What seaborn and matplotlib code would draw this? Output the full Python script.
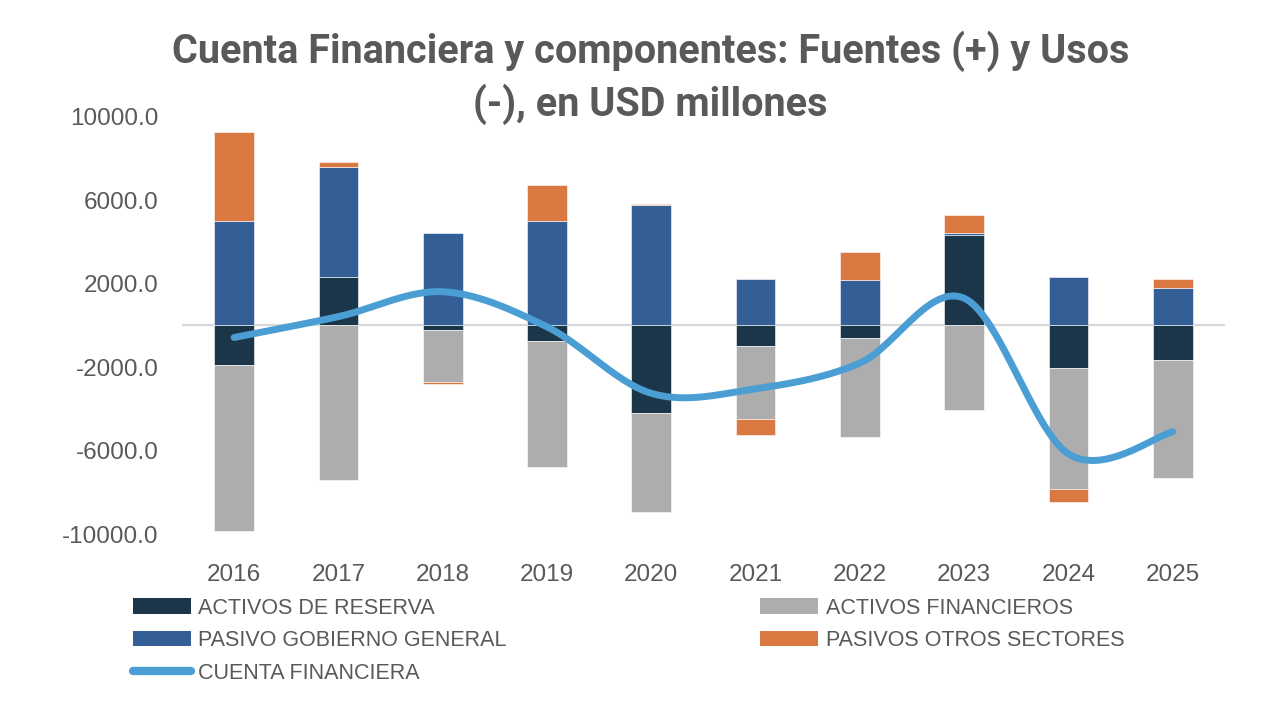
import numpy as np
import pandas as pd
import matplotlib
matplotlib.use("Agg")
import matplotlib.pyplot as plt
from matplotlib.lines import Line2D
from matplotlib.patches import Patch
import seaborn as sns

sns.set_theme(style="white")
plt.rcParams['font.family'] = ['Liberation Sans', 'DejaVu Sans']

years = ["2016", "2017", "2018", "2019", "2020", "2021", "2022", "2023", "2024", "2025"]
activos_reserva = [-1890, 2300, -210, -770, -4210, -970, -600, 4310, -2040, -1670]
activos_financieros = [-7960, -7400, -2510, -6030, -4710, -3520, -4730, -4040, -5800, -5650]
pasivo_gobierno = [5000, 5280, 4430, 4990, 5740, 2230, 2150, 130, 2310, 1780]
pasivos_otros = [4270, 240, -100, 1740, 70, -770, 1380, 850, -620, 450]
cuenta_financiera = [-580, 420, 1610, -70, -3250, -3030, -1800, 1300, -6150, -5090]

series_names = ["ACTIVOS DE RESERVA", "ACTIVOS FINANCIEROS",
                "PASIVO GOBIERNO GENERAL", "PASIVOS OTROS SECTORES"]
series_colors = ["#1B3649", "#ADADAD", "#335E96", "#D97841"]
line_name = "CUENTA FINANCIERA"
line_color = "#4A9ED3"

df = pd.DataFrame({
    "year": years,
    series_names[0]: activos_reserva,
    series_names[1]: activos_financieros,
    series_names[2]: pasivo_gobierno,
    series_names[3]: pasivos_otros,
})

fig = plt.figure(figsize=(12.88, 7.04), dpi=100)
ax = fig.add_axes([0.1413, 0.241, 0.8097, 0.5936])

x = np.arange(len(years))
pos_bottom = np.zeros(len(years))
neg_bottom = np.zeros(len(years))
for name, col in zip(series_names, series_colors):
    v = df[name].to_numpy(dtype=float)
    b = np.where(v >= 0, pos_bottom, neg_bottom)
    ax.bar(x, v, bottom=b, width=0.38, color=col, edgecolor="white",
           linewidth=0.4, zorder=2)
    pos_bottom += np.where(v >= 0, v, 0)
    neg_bottom += np.where(v < 0, v, 0)

ax.axhline(0, color="#D9D9D9", linewidth=1.6, zorder=1)


# smoothed line like the spreadsheet one (catmull-rom between points)
def smooth(xs, ys, n=30):
    pts = np.column_stack([xs, ys]).astype(float)
    pts = np.vstack([pts[0], pts, pts[-1]])
    out = []
    for i in range(1, len(pts) - 2):
        p0, p1, p2, p3 = pts[i - 1], pts[i], pts[i + 1], pts[i + 2]
        t = np.linspace(0, 1, n)[:, None]
        seg = 0.5 * ((2 * p1) + (-p0 + p2) * t + (2 * p0 - 5 * p1 + 4 * p2 - p3) * t ** 2
                     + (-p0 + 3 * p1 - 3 * p2 + p3) * t ** 3)
        out.append(seg)
    out = np.vstack(out)
    return out[:, 0], out[:, 1]


sx, sy = smooth(x, cuenta_financiera)
sns.lineplot(x=sx, y=sy, ax=ax, color=line_color, linewidth=5, sort=False,
             solid_capstyle="round", zorder=3)

ax.set_xlim(-0.5, len(years) - 0.5)
ax.set_ylim(-10000, 10000)
ax.set_yticks([-10000, -6000, -2000, 2000, 6000, 10000])
ax.set_yticklabels([f"{t:.1f}" for t in ax.get_yticks()])
ax.set_xticks(x)
ax.set_xticklabels(years)
ax.tick_params(axis="y", labelsize=17.5, labelcolor="#595959", pad=17, length=0)
ax.tick_params(axis="x", labelsize=17.5, labelcolor="#595959", pad=21, length=0)
for s in ax.spines.values():
    s.set_visible(False)
ax.grid(False)
ax.set_xlabel("")
ax.set_ylabel("")

fig.text(0.505, 0.956, "Cuenta Financiera y componentes: Fuentes (+) y Usos\n(-), en USD millones",
         ha="center", va="top", fontsize=28.5, fontweight="bold", color="#595959",
         family=["Roboto", "DejaVu Sans"], linespacing=1.34)

h = [Patch(facecolor=c, edgecolor="none") for c in series_colors]
line_handle = Line2D([], [], color=line_color, linewidth=6, solid_capstyle="round")
leg_kw = dict(frameon=False, fontsize=15.5, handlelength=2.7, handleheight=0.75,
              handletextpad=0.35, labelspacing=0.53, borderpad=0, borderaxespad=0,
              loc="upper left", labelcolor="#595959")
leg1 = fig.legend([h[0], h[2], line_handle],
                  [series_names[0], series_names[2], line_name],
                  bbox_to_anchor=(0.103, 0.151), **leg_kw)
leg2 = fig.legend([h[1], h[3]], [series_names[1], series_names[3]],
                  bbox_to_anchor=(0.59, 0.151), **leg_kw)

fig.savefig("out.png", dpi=100)
